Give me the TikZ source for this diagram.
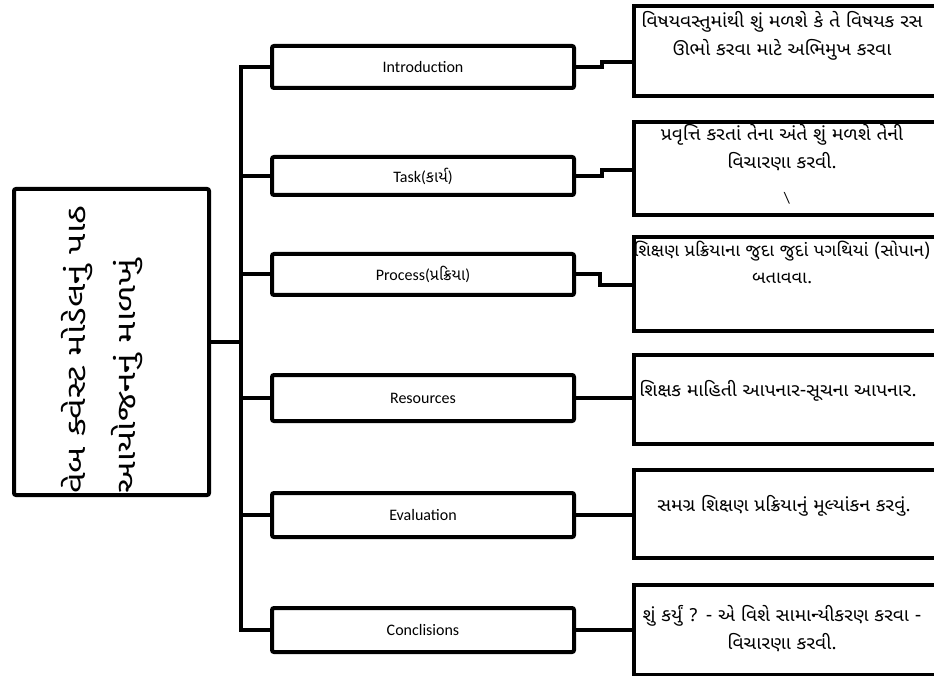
\documentclass[tikz,border=0pt]{standalone}
\usepackage{fontspec}
\setmainfont{Carlito}
\newfontfamily\guj[Script=Gujarati]{Noto Sans Gujarati UI}
\newfontfamily\gujw[Script=Gujarati, FakeStretch=1.07]{Noto Sans Gujarati UI}
\newfontfamily\gujL[Script=Gujarati, FakeStretch=1.33]{Noto Sans Gujarati UI}
\usetikzlibrary{positioning}
\begin{document}
\begin{tikzpicture}[x=1pt,y=-1pt,
  mbox/.style={draw, line width=4pt, rounded corners=2pt, minimum width=302pt, inner sep=0pt, font=\fontsize{16}{19}\selectfont},
  rbox/.style={draw, line width=4pt, minimum width=306pt, inner sep=0pt},
  rtext/.style={anchor=north, inner sep=0pt, align=center, font=\gujw\fontsize{18}{28}\selectfont},
  conn/.style={line width=4pt}]
\useasboundingbox (0,0) rectangle (934,676);
\clip (0,0) rectangle (934,676);
\fill[white] (0,0) rectangle (934,676);
% left box
\node[draw, line width=4pt, rounded corners=2pt, minimum width=195pt, minimum height=306pt, inner sep=0pt] (L) at (111.5,342) {};
\node[rotate=90, anchor=north west, inner sep=0pt, align=left, font=\gujL\fontsize{27}{50}\selectfont] (Lt) at (61,494) {વેબ ક્વેસ્ટ મોડેલનું પાઠ\\આયોજનનું માળખું};
% middle boxes
\node[mbox, minimum height=42pt] (m1) at (423,67) {Introduction};
\node[mbox, minimum height=38pt] (m2) at (423,176) {Task({\guj કાર્ય})};
\node[mbox, minimum height=41pt] (m3) at (423,274.5) {Process({\guj પ્રક્રિયા})};
\node[mbox, minimum height=46pt] (m4) at (423,398) {Resources};
\node[mbox, minimum height=44pt] (m5) at (423,515) {Evaluation};
\node[mbox, minimum height=44pt] (m6) at (423,630) {Conclisions};
% right boxes
\node[rbox, minimum height=90pt] (r1) at (787,51) {};
\node[rbox, minimum height=93pt] (r2) at (787,168.5) {};
\node[rbox, minimum height=94pt] (r3) at (787,284) {};
\node[rbox, minimum height=89pt] (r4) at (787,399.5) {};
\node[rbox, minimum height=88pt] (r5) at (787,514) {};
\node[rbox, minimum height=90pt] (r6) at (787,630) {};
% right texts
\node[rtext] (t1) at (782,11) {વિષયવસ્તુમાંથી શું મળશે કે તે વિષયક રસ\\ઊભો કરવા માટે અભિમુખ કરવા};
\node[rtext] (t2) at (782,124) {પ્રવૃત્તિ કરતાં તેના અંતે શું મળશે તેની\\વિચારણા કરવી.};
\node[inner sep=0pt, font=\fontsize{16}{19}\selectfont] (t2b) at (787,198) {\textbackslash};
\node[rtext, font=\gujw\fontsize{17.2}{27}\selectfont] (t3) at (782,241) {શિક્ષણ પ્રક્રિયાના જુદા જુદાં પગથિયાં (સોપાન)\\બતાવવા.};
\node[rtext] (t4) at (778,380) {શિક્ષક માહિતી આપનાર-સૂચના આપનાર.};
\node[rtext] (t5) at (784,495) {સમગ્ર શિક્ષણ પ્રક્રિયાનું મૂલ્યાંકન કરવું.};
\node[rtext] (t6) at (782,605) {શું કર્યું ? - એ વિશે સામાન્યીકરણ કરવા -\\વિચારણા કરવી.};
% connectors left
\foreach \m in {m1,m2,m3,m4,m5,m6}
  \draw[conn] (L.east) -- ++(30,0) |- (\m.west);
% connectors right
\draw[conn] (m1.east) -- ++(26,0) |- ([yshift=-11pt]r1.west);
\draw[conn] (m2.east) -- ++(26,0) |- ([yshift=-1.5pt]r2.west);
\draw[conn] (m3.east) -- ++(24,0) |- ([yshift=-1pt]r3.west);
\draw[conn] (m4.east) -- (m4.east -| r4.west);
\draw[conn] (m5.east) -- (m5.east -| r5.west);
\draw[conn] (m6.east) -- (m6.east -| r6.west);
\end{tikzpicture}
\end{document}
